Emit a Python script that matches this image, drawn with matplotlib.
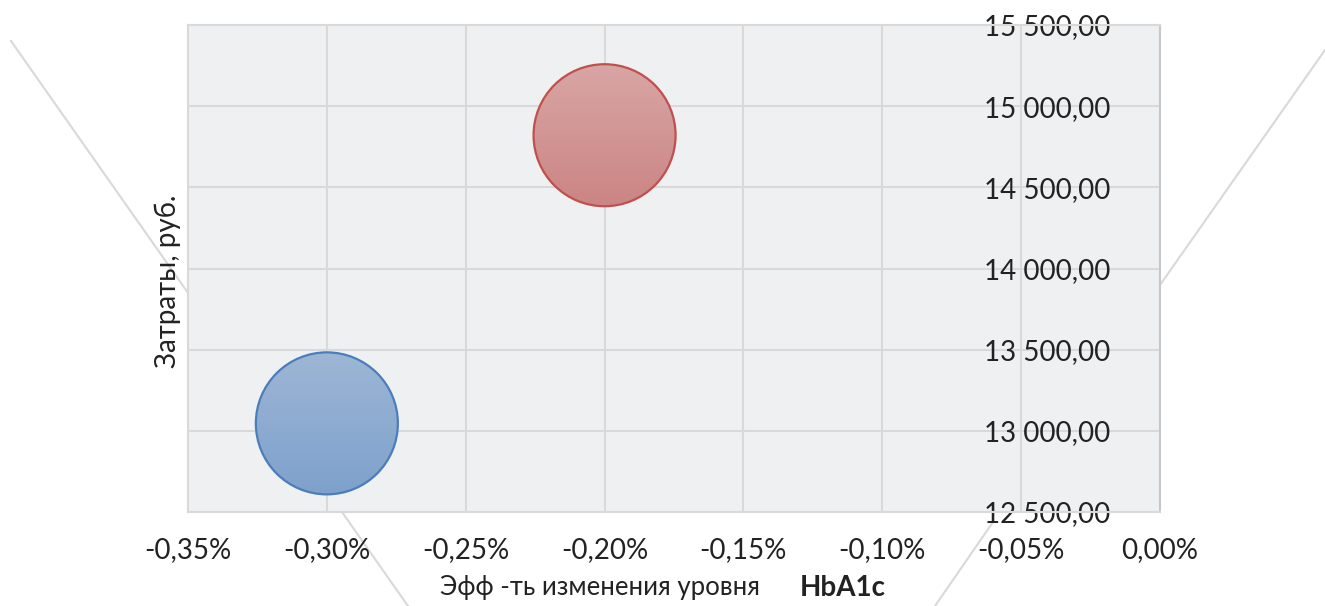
import numpy as np
import matplotlib
matplotlib.use('Agg')
import matplotlib.pyplot as plt
from matplotlib.patches import Ellipse
from matplotlib.lines import Line2D
from matplotlib.ticker import FuncFormatter

plt.rcParams['font.family'] = ['Lato', 'DejaVu Sans']

# Bubble data: effect on HbA1c (%), costs (rub.), bubble size
effect = [-0.30, -0.20]
costs = [13046, 14821]
sizes = [1.0, 1.0]
top_colors = ['#9db6d5', '#d8a6a5']
bottom_colors = ['#7ea1cc', '#cb8584']
edge_colors = ['#4a7ebb', '#c0504d']

x_ticks = np.arange(-0.35, 0.001, 0.05)
y_ticks = np.arange(12500, 15501, 500)

W, H = 1325, 606
fig = plt.figure(figsize=(W / 100, H / 100), dpi=100)
fig.patch.set_facecolor('white')

# decorative diagonal lines behind the chart (figure pixels)
deco = [[(11, 41), (408, 606)],
        [(1325, 50), (1160, 285)],
        [(993, 522), (935, 606)]]
for (x0, y0), (x1, y1) in deco:
    fig.add_artist(Line2D([x0 / W, x1 / W], [1 - y0 / H, 1 - y1 / H],
                          color='#d9d9d9', lw=1.5, zorder=0))

ax = fig.add_axes([188 / W, 1 - 512 / H, (1160 - 188) / W, (512 - 25) / H])
ax.set_zorder(1)
ax.set_facecolor('#eff0f2')

xmin, xmax = -0.35, 0.0
ymin, ymax = 12500, 15500
ax_w_px = 1160 - 188
ax_h_px = 512 - 25
r_px = 71

for x, y, s, ct, cb, ce in zip(effect, costs, sizes, top_colors, bottom_colors, edge_colors):
    r = r_px * np.sqrt(s / max(sizes))
    w = 2 * r * (xmax - xmin) / ax_w_px
    h = 2 * r * (ymax - ymin) / ax_h_px
    circ = Ellipse((x, y), w, h, facecolor='none', edgecolor=ce, lw=1.6, zorder=4)
    ax.add_patch(circ)
    c0 = np.array(matplotlib.colors.to_rgb(ct))
    c1 = np.array(matplotlib.colors.to_rgb(cb))
    t = np.linspace(0, 1, 100)[:, None]
    grad = (c0 * (1 - t) + c1 * t)[:, None, :]
    im = ax.imshow(grad, extent=[x - w / 2, x + w / 2, y - h / 2, y + h / 2],
                   aspect='auto', origin='upper', zorder=3)
    im.set_clip_path(circ)

ax.set_xlim(xmin, xmax)
ax.set_ylim(ymin, ymax)
ax.set_xticks(x_ticks)
ax.set_yticks(y_ticks)
ax.grid(True, color='#d9d9d9', lw=1.5, zorder=0)
ax.set_axisbelow(True)

for side in ['left', 'top', 'bottom']:
    ax.spines[side].set_color('#d9d9d9')
    ax.spines[side].set_linewidth(1.5)
ax.spines['right'].set_color('#c8c8c8')
ax.spines['right'].set_linewidth(1.5)


def fmt_x(v, pos):
    return ('%.2f%%' % v).replace('.', ',').replace('-0,00', '0,00')


def fmt_y(v, pos):
    return '{:,.2f}'.format(v).replace(',', ' ').replace('.', ',')


ax.xaxis.set_major_formatter(FuncFormatter(fmt_x))
ax.yaxis.set_major_formatter(FuncFormatter(fmt_y))
ax.yaxis.tick_right()
ax.tick_params(axis='both', length=0, labelsize=20, colors='#222222')
ax.tick_params(axis='x', pad=18)
ax.tick_params(axis='y', pad=-36)
plt.setp(ax.get_yticklabels(), ha='right')

fig.text(168 / W, 1 - 281 / H, 'Затраты, руб.', rotation=90, fontsize=20,
         color='#222222', ha='center', va='center')
fig.text(760 / W, 1 - 588 / H, 'Эфф -ть изменения уровня', fontsize=18.5,
         color='#222222', ha='right', va='center')
fig.text(800 / W, 1 - 588 / H, 'HbA1c', fontsize=20, fontweight='bold',
         color='#222222', ha='left', va='center')

fig.savefig('out.png', dpi=100)
